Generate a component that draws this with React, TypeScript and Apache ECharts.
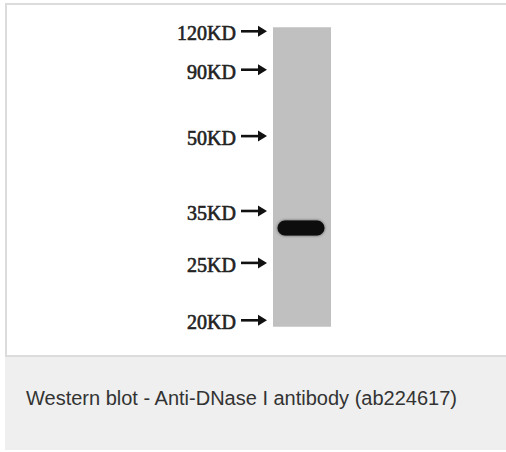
import React, { useEffect, useRef } from 'react';
import * as echarts from 'echarts';

// Molecular-weight markers and their migration distance (px from top of lane)
const markerLabels = ['120KD', '90KD', '50KD', '35KD', '25KD', '20KD'];
const markerMigration = [6, 44.5, 111, 186, 238, 295.5];
// Detected band(s): lane index and migration distance
const bandLanes = [0];
const bandMigration = [201];
const caption = 'Western blot - Anti-DNase I antibody (ab224617)';

export default function App() {
  const ref = useRef<HTMLDivElement>(null);
  useEffect(() => {
    if (!ref.current) return;
    const chart = echarts.init(ref.current, undefined, { renderer: 'svg' });
    const option: any = {
      animation: false,
      backgroundColor: '#ffffff',
      title: {
        text: caption,
        left: 21,
        top: 383,
        textStyle: {
          fontFamily: '"Liberation Sans", Arial, sans-serif',
          fontSize: 20,
          fontWeight: 'normal',
          color: '#333333',
        },
      },
      graphic: [
        { type: 'rect', z: -10, shape: { x: 5, y: 357, width: 501, height: 93 }, style: { fill: '#eeefee' } },
        { type: 'line', z: -5, shape: { x1: 5, y1: 4, x2: 506, y2: 4 }, style: { stroke: '#dcdcdc', lineWidth: 2 } },
        { type: 'line', z: -5, shape: { x1: 6, y1: 3, x2: 6, y2: 357 }, style: { stroke: '#dcdcdc', lineWidth: 2 } },
        { type: 'line', z: -5, shape: { x1: 5, y1: 356, x2: 506, y2: 356 }, style: { stroke: '#dcdcdc', lineWidth: 2 } },
      ],
      grid: {
        left: 273,
        top: 27.3,
        width: 58,
        height: 299.5,
        show: true,
        backgroundColor: '#c0c0c0',
        borderWidth: 0,
      },
      xAxis: { type: 'value', min: 0, max: 1, show: false },
      yAxis: { type: 'value', min: 0, max: 300, inverse: true, show: false },
      series: [
        {
          type: 'custom',
          clip: false,
          data: markerMigration.map((m, i) => ({ value: [0, m], name: markerLabels[i] })),
          renderItem: (params: any, api: any) => {
            const pt = api.coord([0, api.value(1)]);
            const gx = params.coordSys.x;
            const y = pt[1];
            const label = markerLabels[params.dataIndex];
            const ay = y - 2;
            return {
              type: 'group',
              children: [
                {
                  type: 'text',
                  style: {
                    x: gx - 37,
                    y: y,
                    text: label,
                    align: 'right',
                    verticalAlign: 'middle',
                    fontFamily: '"Liberation Serif", "Times New Roman", serif',
                    fontSize: 20,
                    fill: '#222222',
                    stroke: '#222222',
                    lineWidth: 0.6,
                  },
                },
                {
                  type: 'line',
                  shape: { x1: gx - 32, y1: ay, x2: gx - 13, y2: ay },
                  style: { stroke: '#111111', lineWidth: 2.6 },
                },
                {
                  type: 'polygon',
                  shape: { points: [[gx - 15, ay - 5.5], [gx - 6, ay], [gx - 15, ay + 5.5]] },
                  style: { fill: '#111111' },
                },
              ],
            };
          },
        },
        {
          type: 'custom',
          clip: false,
          data: bandLanes.map((l, i) => [l, bandMigration[i]]),
          renderItem: (params: any, api: any) => {
            const pt = api.coord([0, api.value(1)]);
            const cs = params.coordSys;
            const h = 15;
            return {
              type: 'rect',
              shape: { x: cs.x + 4.5, y: pt[1] - h / 2, width: cs.width - 11, height: h, r: h / 2 },
              style: { fill: '#0a0a0a', shadowBlur: 3, shadowColor: 'rgba(0,0,0,0.6)' },
            };
          },
        },
      ],
    };
    chart.setOption(option);
    return () => chart.dispose();
  }, []);
  return (
    <div
      ref={ref}
      style={{ position: 'fixed', left: 0, top: 0, width: 506, height: 452 }}
    />
  );
}
